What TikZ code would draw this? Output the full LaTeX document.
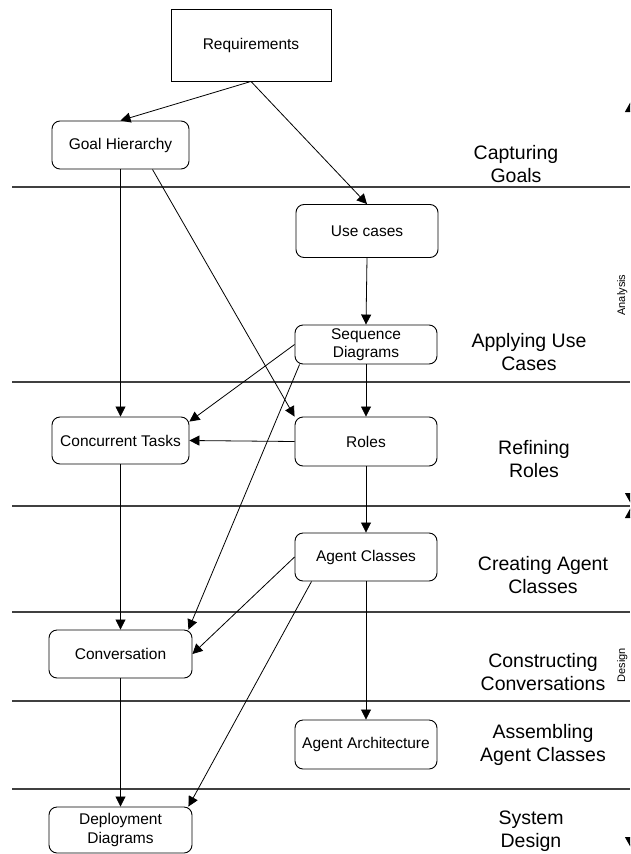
\documentclass[tikz,border=0pt]{standalone}
\usepackage{fontspec}
\setmainfont{Liberation Sans}
\usetikzlibrary{arrows.meta,calc}

\begin{document}
\begin{tikzpicture}[x=1pt,y=-1pt,
  box/.style={draw, line width=0.9pt, rounded corners=8pt, inner sep=0pt, align=center,
    font=\fontsize{15.5}{18.5}\selectfont},
  plainbox/.style={box, rounded corners=0pt},
  flow/.style={draw, line width=0.8pt, -{Triangle[length=10pt,width=10pt]}},
  sep/.style={draw=black!75, line width=1.3pt},
  phase/.style={align=center, inner sep=0pt, font=\fontsize{19.5}{22.5}\selectfont},
  span/.style={draw, line width=1pt, {Triangle[length=11pt,width=12pt]}-{Triangle[length=11pt,width=12pt]}},
  sidelabel/.style={rotate=90, anchor=north, inner sep=0pt, font=\fontsize{11}{13}\selectfont},
  ]
\useasboundingbox (0,0) rectangle (630,854);
\clip (0,0) rectangle (630,854);

% phase separators
\foreach \yy in {187,382,506,612,701,789}
  \draw[sep] (12,\yy) -- (630,\yy);

% work products
\node[plainbox, minimum width=160pt, minimum height=72pt] (req) at (251,45) {Requirements};
\node[box, minimum width=137pt, minimum height=48pt] (goal) at (120.5,145) {Goal Hierarchy};
\node[box, minimum width=142pt, minimum height=53pt] (use) at (367,231) {Use cases};
\node[box, minimum width=142pt, minimum height=39pt] (seq) at (366,344.5) {Sequence\\Diagrams};
\node[box, minimum width=137pt, minimum height=47pt] (conc) at (120.5,440.5) {Concurrent Tasks};
\node[box, minimum width=142pt, minimum height=49pt] (roles) at (366,441.5) {Roles};
\node[box, minimum width=142pt, minimum height=48pt] (agcl) at (366,557) {Agent Classes};
\node[box, minimum width=143pt, minimum height=48pt] (conv) at (120.5,654) {Conversation};
\node[box, minimum width=142pt, minimum height=49pt] (arch) at (366,744.5) {Agent Architecture};
\node[box, minimum width=143pt, minimum height=46pt] (depl) at (120.5,830) {Deployment\\Diagrams};

% flows between products
\draw[flow] (req.south) -- (goal.north);
\draw[flow] (req.south) -- (use.north);
\draw[flow] (goal.south) -- (conc.north);
\draw[flow] ([xshift=32pt]goal.south) -- (roles.north west);
\draw[flow] (use.south) -- (seq.north);
\draw[flow] (seq.west) -- ([yshift=-5pt]conc.north east);
\draw[flow] (seq.south) -- (roles.north);
\draw[flow] ([xshift=5pt]seq.south west) -- ([xshift=-4pt]conv.north east);
\draw[flow] (roles.west) -- (conc.east);
\draw[flow] (roles.south) -- (agcl.north);
\draw[flow] (conc.south) -- (conv.north);
\draw[flow] (agcl.west) -- (conv.east);
\draw[flow] ([xshift=17pt]agcl.south west) -- ([xshift=-4pt]depl.north east);
\draw[flow] (agcl.south) -- (arch.north);
\draw[flow] (conv.south) -- (depl.north);

% phase names
\node[phase] (p1) at (516,164) {Capturing\\Goals};
\node[phase] (p2) at (529,352) {Applying Use\\Cases};
\node[phase] (p3) at (534,459) {Refining\\Roles};
\node[phase] (p4) at (543,575) {Creating Agent\\Classes};
\node[phase] (p5) at (543,672) {Constructing\\Conversations};
\node[phase] (p6) at (543,745) {Assembling\\Agent Classes};
\node[phase] (p7) at (531,831) {System\\Design};

% analysis / design spans
\coordinate (atop) at (631,101);
\coordinate (abot) at (631,504);
\coordinate (dtop) at (631,507);
\coordinate (dbot) at (631,848);
\draw[span] (atop) -- (abot);
\draw[span] (dtop) -- (dbot);
\node[sidelabel] (alab) at (617,295) {Analysis};
\node[sidelabel] (dlab) at (617,665) {Design};
\end{tikzpicture}
\end{document}
